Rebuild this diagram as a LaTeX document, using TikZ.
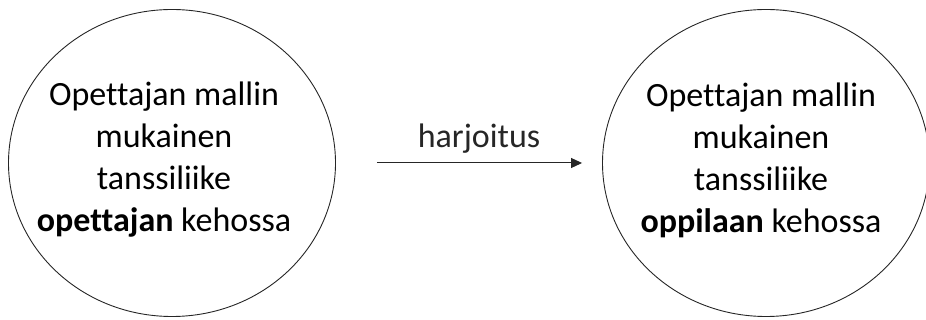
\documentclass[tikz,border=0pt]{standalone}
\usepackage{fontspec}
\setmainfont{Carlito}[Ligatures={NoCommon}]
\usetikzlibrary{shapes.geometric,arrows.meta,positioning}

\begin{document}
\begin{tikzpicture}[
    x=1pt, y=1pt,
    font=\fontsize{34}{42}\selectfont,
    blob/.style={ellipse, draw=black!85, line width=0.9pt, minimum width=327pt, minimum height=307pt, inner sep=0pt},
    blobtext/.style={align=center, inner sep=0pt, yshift=3pt},
    arrow/.style={-{Triangle[length=11pt,width=10pt]}, line width=1pt, black!85}
]
    \useasboundingbox (0,0) rectangle (926,320);
    \node[blob] (teacher) at (172,157) {};
    \node[blob] (pupil) at (766,157) {};
    \node[blobtext, xshift=-8pt] (teachertext) at (teacher) {Opettajan mallin\\mukainen\\tanssiliike\\\textbf{opettajan} kehossa};
    \node[blobtext, xshift=-5pt] (pupiltext) at (pupil) {Opettajan mallin\\mukainen\\tanssiliike\\\textbf{oppilaan} kehossa};

    \draw[arrow, shorten <=41pt, shorten >=20pt] (teacher.east) -- node[above=6pt, xshift=10pt] (practice) {harjoitus} (pupil.west);
\end{tikzpicture}
\end{document}
